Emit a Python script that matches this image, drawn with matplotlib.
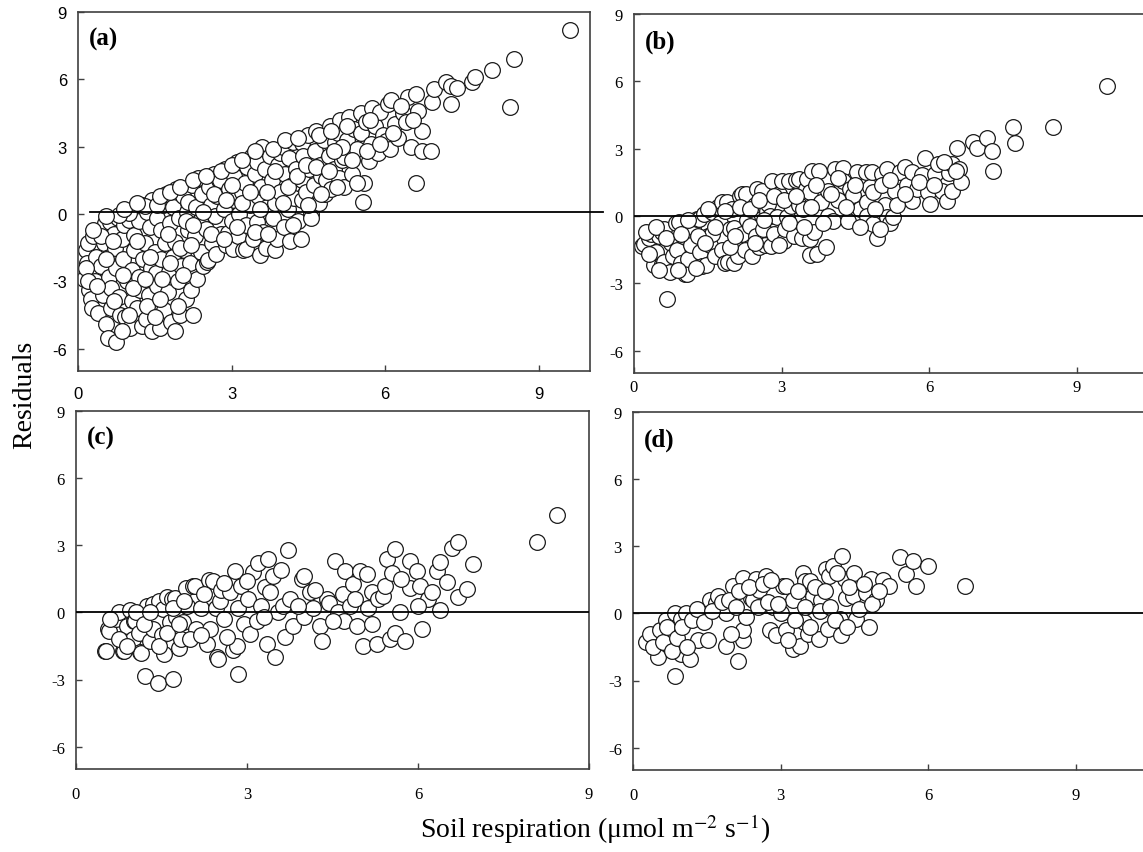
import numpy as np
import matplotlib
matplotlib.use('Agg')
import matplotlib.pyplot as plt

plt.rcParams['font.family'] = ['Liberation Serif', 'DejaVu Serif']
plt.rcParams['mathtext.fontset'] = 'stix'
plt.rcParams['axes.unicode_minus'] = False

resid_a = [
    (0.12, -2.9), (0.15, -1.6), (0.18, -2.2), (0.2, -1.3), (0.22, -3.4), (0.25, -3.8), (0.28, -4.2),
    (0.3, -2.6), (0.3, -1.0), (0.33, -3.0), (0.35, -1.9), (0.4, -4.4), (0.42, -0.7), (0.45, -2.3),
    (0.48, -3.6), (0.5, -1.3), (0.52, -0.4), (0.55, -4.9), (0.58, -5.55), (0.6, -1.9), (0.6, -2.8),
    (0.62, -0.35), (0.65, -3.3), (0.65, -4.2), (0.7, -0.9), (0.72, -1.5), (0.75, -5.7), (0.75, -2.4),
    (0.78, -0.2), (0.8, -3.7), (0.82, -4.5), (0.85, -1.1), (0.88, -2.0), (0.9, -0.5), (0.92, -4.6),
    (0.95, -3.0), (0.95, 0.0), (1.0, -0.27), (1.02, -5.1), (1.05, -2.5), (1.05, -3.9), (1.1, -0.95),
    (1.1, -1.6), (1.12, 0.2), (1.15, -4.2), (1.2, -2.8), (1.2, -0.3), (1.22, -3.4), (1.25, -5.0),
    (1.25, 0.4), (1.27, -2.0), (1.3, -1.3), (1.32, -4.7), (1.35, 0.1), (1.38, -3.6), (1.4, -0.6),
    (1.42, -2.4), (1.45, -5.2), (1.45, 0.6), (1.5, -1.7), (1.53, -2.65), (1.55, -3.2), (1.55, -0.2),
    (1.6, -5.1), (1.62, -0.7), (1.63, -2.0), (1.66, 0.4), (1.68, -4.3), (1.7, -1.3), (1.72, 0.9),
    (1.75, -3.5), (1.78, -2.6), (1.8, -0.4), (1.82, -4.8), (1.85, 0.3), (1.85, -1.9), (1.89, -1.25),
    (1.9, -5.2), (1.92, 1.1), (1.95, -3.0), (1.98, -0.2), (2.0, -4.5), (2.02, -2.3), (2.05, 0.8),
    (2.08, -1.6), (2.1, -3.8), (2.12, 0.1), (2.15, 0.55), (2.15, -0.7), (2.18, -2.2), (2.2, -3.4),
    (2.22, 1.3), (2.25, -4.5), (2.28, -1.0), (2.3, 0.3), (2.32, -2.9), (2.35, 1.6), (2.38, -0.3),
    (2.4, -1.7), (2.42, 0.9), (2.45, -2.3), (2.5, -0.65), (2.52, -2.15), (2.54, -2.05), (2.55, 1.2),
    (2.6, 0.4), (2.62, -1.3), (2.65, 1.8), (2.68, -0.1), (2.7, -1.8), (2.72, 0.8), (2.75, 1.5),
    (2.77, 1.5), (2.8, -0.9), (2.85, 0.2), (2.88, 2.0), (2.9, -1.4), (2.93, -0.85), (2.95, 1.1),
    (3.0, -0.3), (3.02, -1.55), (3.05, 1.7), (3.05, 0.6), (3.1, 2.3), (3.12, -1.0), (3.15, 0.0),
    (3.2, 1.0), (3.22, -1.6), (3.26, 1.4), (3.28, -0.5), (3.29, -1.55), (3.3, 2.1), (3.35, 0.4),
    (3.4, 2.6), (3.42, -1.1), (3.45, 1.8), (3.49, -0.35), (3.49, 2.3), (3.52, 0.8), (3.55, -1.84),
    (3.58, 1.2), (3.6, 3.0), (3.62, -0.8), (3.65, 2.0), (3.68, -1.5), (3.7, 0.3), (3.75, 2.6),
    (3.78, 1.5), (3.8, -0.2), (3.84, 0.5), (3.84, -1.6), (3.88, -1.1), (3.9, 2.2), (3.94, 2.7),
    (3.95, 1.0), (4.0, 3.0), (4.02, -0.6), (4.05, 1.8), (4.1, 0.2), (4.12, 2.5), (4.15, -1.2),
    (4.18, 1.3), (4.2, 3.2), (4.22, 0.7), (4.25, 2.0), (4.3, -0.3), (4.35, -1.1), (4.37, 3.15),
    (4.37, 1.5), (4.37, 0.6), (4.4, 2.6), (4.45, 1.0), (4.5, 3.5), (4.52, 2.0), (4.55, 0.0),
    (4.56, -0.2), (4.6, 1.3), (4.62, 2.8), (4.65, 3.7), (4.7, 0.5), (4.72, 2.2), (4.75, 1.7),
    (4.8, 3.3), (4.82, 0.9), (4.85, 1.5), (4.9, 2.6), (4.92, 3.9), (4.95, 1.1), (5.0, 2.0),
    (5.02, 3.2), (5.07, 3.6), (5.1, 1.6), (5.12, 4.2), (5.15, 2.4), (5.2, 2.55), (5.2, 1.2),
    (5.25, 3.3), (5.3, 4.3), (5.35, 1.8), (5.4, 3.8), (5.45, 2.9), (5.53, 4.5), (5.53, 3.6),
    (5.56, 0.55), (5.59, 1.4), (5.62, 4.1), (5.69, 2.35), (5.73, 3.1), (5.75, 4.7), (5.8, 3.9),
    (5.85, 2.7), (5.89, 4.55), (5.95, 3.5), (6.02, 3.25), (6.05, 4.9), (6.1, 2.9), (6.12, 5.1),
    (6.2, 4.0), (6.25, 3.4), (6.34, 4.5), (6.41, 4.1), (6.45, 5.2), (6.5, 3.0), (6.6, 5.35),
    (6.6, 1.4), (6.65, 4.6), (6.72, 3.7), (6.72, 2.8), (6.9, 2.8), (6.92, 5.0), (6.96, 5.55),
    (7.19, 5.9), (7.29, 5.7), (7.29, 4.9), (7.4, 5.6), (7.7, 5.9), (7.76, 6.1), (8.09, 6.4),
    (8.44, 4.75), (8.52, 6.9), (9.61, 8.2),
    (0.15, -2.4), (0.2, -3.0), (0.38, -3.2), (0.45, -1.0), (0.55, -2.0), (0.68, -1.2), (0.7, -3.9),
    (0.85, -5.2), (0.88, -2.7), (1.0, -4.5), (1.08, -3.3), (1.15, -1.2), (1.3, -2.9), (1.35, -4.1),
    (1.4, -1.9), (1.5, -4.6), (1.6, -3.8), (1.65, -2.9), (1.75, -0.9), (1.8, -2.2), (1.95, -4.1),
    (2.0, -1.5), (2.05, -2.7), (2.1, -0.3), (2.2, -1.4), (2.25, -0.5), (1.3, 0.35), (1.55, 0.4),
    (1.0, 0.05), (0.8, -0.05),
    (2.45, 0.1), (2.6, -0.9), (2.65, 0.9), (2.85, -1.1), (2.9, 0.6), (3.0, 1.3), (3.1, -0.6),
    (3.2, 0.5), (3.35, 1.0), (3.45, -0.8), (3.55, 0.2), (3.7, 1.0), (3.72, -0.9), (3.85, 1.9),
    (4.0, 0.5), (4.1, 1.2), (4.2, -0.5), (4.28, 1.7), (4.45, 2.2), (4.5, 0.4), (4.65, 2.1),
    (4.75, 0.9), (4.9, 1.9), (5.05, 1.2), (5.15, 3.0), (5.35, 2.4), (5.45, 1.4), (5.65, 2.8),
    (5.9, 3.1), (6.15, 3.6), (6.3, 4.8), (6.55, 4.2), (5.0, 2.8), (5.25, 3.9), (5.7, 4.2),
    (0.3, -0.7), (0.55, -0.1), (0.9, 0.2), (1.15, 0.5), (1.6, 0.8), (1.8, 1.0), (2.0, 1.2),
    (2.25, 1.5), (2.5, 1.7), (2.8, 1.9), (3.0, 2.2), (3.2, 2.4), (3.45, 2.8), (3.8, 2.9),
    (4.05, 3.3), (4.3, 3.4), (4.7, 3.5), (4.95, 3.7),
]

resid_b = [
    (0.16, -1.34), (0.2, -1.25), (0.3, -1.0), (0.35, -0.8), (0.4, -2.2), (0.45, -1.6), (0.5, -0.9),
    (0.57, -2.14), (0.57, -0.71), (0.61, -2.05), (0.61, -0.6), (0.67, -3.7), (0.73, -2.5), (0.75, -1.2),
    (0.8, -1.8), (0.85, -0.31), (0.87, -1.5), (0.91, -0.27), (0.95, -2.1), (1.0, -0.9), (1.04, -2.59),
    (1.07, -2.6), (1.1, -1.92), (1.15, -1.3), (1.2, -0.5), (1.28, -0.13), (1.32, -0.13), (1.35, -1.6),
    (1.38, -2.23), (1.42, 0.1), (1.46, -2.2), (1.5, -0.89), (1.55, -1.3), (1.58, 0.18), (1.58, -0.8),
    (1.65, -1.8), (1.7, 0.4), (1.75, -0.3), (1.79, 0.62), (1.79, -1.5), (1.85, -2.1), (1.89, 0.62),
    (1.91, -2.05), (1.95, -0.6), (2.0, 0.3), (2.03, -2.1), (2.03, -0.55), (2.1, -1.2), (2.12, -1.78),
    (2.15, 0.9), (2.19, 0.98), (2.19, -0.8), (2.25, -1.5), (2.28, 0.98), (2.3, -0.2), (2.36, -0.45),
    (2.39, -1.78), (2.45, 0.5), (2.48, -0.89), (2.5, 1.2), (2.55, -1.4), (2.6, 1.12), (2.62, -0.58),
    (2.66, -1.29), (2.7, 0.2), (2.73, 0.54), (2.76, 0.0), (2.78, -1.34), (2.8, 1.55), (2.85, -0.8),
    (2.9, -0.05), (2.95, 1.0), (3.0, 1.56), (3.05, -1.1), (3.07, -0.58), (3.1, -0.05), (3.15, 1.56),
    (3.2, 0.45), (3.25, -0.9), (3.3, 1.6), (3.35, 0.49), (3.36, 1.65), (3.41, -1.0), (3.44, 0.31),
    (3.5, 1.2), (3.52, 1.65), (3.58, 1.07), (3.58, -1.03), (3.58, -1.74), (3.62, 2.0), (3.65, -0.7),
    (3.72, -1.7), (3.76, 2.0), (3.8, 0.6), (3.9, -1.38), (3.94, 1.12), (3.94, 0.0), (4.05, -0.22),
    (4.09, 2.1), (4.15, 0.7), (4.25, 2.14), (4.25, 1.56), (4.35, -0.22), (4.4, 1.2), (4.45, 0.94),
    (4.53, 1.97), (4.6, 0.3), (4.72, 1.97), (4.73, 0.62), (4.73, 0.0), (4.8, 1.3), (4.83, 1.97),
    (4.86, 1.07), (4.86, -0.36), (4.94, -1.0), (5.04, 1.88), (5.04, 1.4), (5.1, 0.5), (5.14, 2.1),
    (5.14, -0.05), (5.2, -0.3), (5.27, -0.05), (5.3, 1.1), (5.41, 1.97), (5.5, 2.2), (5.55, 1.4),
    (5.65, 0.67), (5.65, 1.97), (5.75, 1.2), (5.85, 1.83), (5.92, 2.6), (5.98, 1.07), (6.02, 0.54),
    (6.12, 1.88), (6.18, 2.32), (6.26, 1.12), (6.36, 0.67), (6.4, 1.9), (6.46, 1.12), (6.46, 2.32),
    (6.56, 3.03), (6.6, 2.1), (6.65, 1.5), (6.9, 3.3), (6.97, 3.03), (7.17, 3.48), (7.27, 2.9),
    (7.3, 2.0), (7.7, 3.97), (7.74, 3.26), (8.52, 3.97), (9.61, 5.8),
    (0.25, -0.7), (0.3, -1.7), (0.45, -0.5), (0.5, -2.4), (0.65, -1.0), (0.9, -2.4), (0.95, -0.8),
    (1.1, -0.2), (1.25, -2.3), (1.3, -0.9), (1.45, -1.2), (1.5, 0.3), (1.65, -0.5), (1.85, 0.2),
    (1.95, -1.4), (2.05, -0.9), (2.15, 0.4), (2.35, 0.3), (2.45, -1.2), (2.55, 0.7), (2.65, -0.2),
    (2.85, 0.9), (2.95, -1.3), (3.05, 0.7), (3.15, -0.3), (3.3, 0.9), (3.45, -0.5), (3.6, 0.4),
    (3.7, 1.4), (3.85, -0.3), (4.0, 1.0), (4.15, 1.7), (4.3, 0.4), (4.5, 1.4), (4.6, -0.5),
    (4.9, 0.3), (5.0, -0.6), (5.2, 1.6), (5.35, 0.5), (5.5, 1.0), (5.8, 1.5), (6.1, 1.4),
    (6.3, 2.4), (6.55, 2.0),
]

resid_c = [
    (0.51, -1.74), (0.53, -1.73), (0.56, -0.76), (0.58, -0.83), (0.7, -0.3), (0.76, 0.0), (0.83, -1.74),
    (0.85, -1.73), (0.9, -0.6), (0.95, 0.1), (1.0, -1.2), (1.02, -0.39), (1.03, -0.4), (1.1, -0.9),
    (1.12, -1.79), (1.14, -1.8), (1.17, -0.03), (1.21, -2.86), (1.25, 0.3), (1.3, -1.3), (1.35, 0.37),
    (1.35, -0.75), (1.43, -3.14), (1.45, 0.5), (1.5, -1.0), (1.52, 0.16), (1.55, -1.87), (1.6, 0.7),
    (1.65, -0.45), (1.68, 0.58), (1.7, -2.99), (1.73, 0.65), (1.75, -0.2), (1.8, -1.6), (1.84, -1.2),
    (1.87, -0.45), (1.93, 1.1), (1.95, 0.3), (2.05, 1.16), (2.08, 1.18), (2.1, -0.75), (2.2, 0.2),
    (2.3, -1.43), (2.34, 1.45), (2.35, -0.76), (2.4, 1.39), (2.45, 0.2), (2.47, -2.0), (2.49, -2.1),
    (2.53, 0.49), (2.54, 1.0), (2.6, -0.3), (2.7, 0.9), (2.75, -1.7), (2.79, 1.83), (2.82, -1.52),
    (2.84, -2.77), (2.85, 0.2), (2.9, 1.2), (2.95, -0.5), (3.02, 0.58), (3.05, -0.98), (3.1, 1.8),
    (3.17, -0.4), (3.2, 2.2), (3.25, 0.3), (3.32, 1.12), (3.35, -1.43), (3.37, 2.37), (3.4, 0.9),
    (3.46, 1.61), (3.49, -2.0), (3.55, 0.0), (3.63, 0.27), (3.67, -1.12), (3.72, 2.78), (3.75, 0.6),
    (3.8, -0.6), (3.96, 1.47), (4.0, -0.2), (4.0, 1.62), (4.1, 0.89), (4.15, 0.2), (4.28, -0.63),
    (4.31, -1.29), (4.4, 0.6), (4.44, 0.43), (4.54, 2.28), (4.6, 0.0), (4.68, 0.8), (4.7, -0.4),
    (4.72, 1.83), (4.8, 0.3), (4.86, 1.25), (4.93, -0.63), (4.98, 1.83), (5.04, -1.52), (5.1, 1.7),
    (5.12, 0.2), (5.2, 0.9), (5.28, -1.43), (5.3, 0.6), (5.39, 0.71), (5.42, 1.2), (5.45, 2.37),
    (5.5, -1.2), (5.54, 1.78), (5.6, 2.82), (5.6, -0.9), (5.68, 0.0), (5.77, -1.29), (5.86, 2.28),
    (5.86, 1.1), (5.98, 1.83), (6.03, 1.16), (6.07, -0.76), (6.18, 0.58), (6.33, 1.83), (6.39, 2.23),
    (6.39, 0.1), (6.5, 1.34), (6.6, 2.86), (6.7, 3.13), (6.7, 0.67), (6.86, 1.05), (6.96, 2.14),
    (8.09, 3.13), (8.44, 4.33),
    (0.6, -0.3), (0.75, -1.2), (0.9, -1.5), (1.05, 0.0), (1.2, -0.5), (1.3, 0.0), (1.45, -1.5),
    (1.6, -0.9), (1.7, 0.2), (1.8, -0.5), (1.9, 0.5), (2.0, -1.2), (2.2, -1.0), (2.25, 0.8),
    (2.6, 1.3), (2.65, -1.1), (3.0, 1.4), (3.3, -0.2), (3.6, 1.9), (3.9, 0.3), (4.2, 1.0),
    (4.5, -0.4), (4.9, 0.6), (5.2, -0.5), (5.7, 1.5), (6.0, 0.3), (6.25, 0.9),
]

resid_d = [
    (0.27, -1.29), (0.34, -0.91), (0.51, -1.97), (0.54, -0.76), (0.68, -0.3), (0.74, -1.21), (0.85, -2.8),
    (0.85, 0.0), (0.98, -0.23), (0.98, -1.82), (1.08, 0.0), (1.15, -2.05), (1.32, -1.21), (1.35, 0.0),
    (1.52, -1.21), (1.56, 0.6), (1.69, 0.45), (1.73, 0.76), (1.9, -1.44), (1.9, 0.0), (2.03, 1.21),
    (2.13, -2.12), (2.23, -1.21), (2.23, -0.76), (2.23, 1.59), (2.3, -0.15), (2.4, 0.68), (2.44, 0.6),
    (2.5, 1.52), (2.57, 1.06), (2.71, 1.67), (2.78, -0.76), (2.84, 0.3), (2.91, -0.98), (3.01, 0.0),
    (3.05, 1.21), (3.11, 1.21), (3.11, -0.76), (3.25, 0.6), (3.25, -1.59), (3.39, -1.44), (3.45, 1.82),
    (3.47, -0.38), (3.49, 1.44), (3.55, -0.91), (3.59, 1.44), (3.66, 0.76), (3.79, -1.14), (3.83, 0.6),
    (3.93, 1.97), (3.96, -0.68), (3.99, 1.67), (4.06, 2.12), (4.2, -0.23), (4.23, -0.98), (4.25, 2.58),
    (4.3, 1.52), (4.33, 0.68), (4.47, 0.76), (4.5, 1.8), (4.54, -0.23), (4.74, 0.9), (4.79, -0.6),
    (4.84, 1.52), (4.94, 0.6), (5.08, 1.5), (5.21, 1.21), (5.42, 2.5), (5.55, 1.74), (5.69, 2.35),
    (5.75, 1.24), (5.99, 2.12), (6.74, 1.24),
    (0.4, -1.5), (0.6, -1.3), (0.7, -0.6), (0.8, -1.7), (0.9, -1.1), (1.0, -0.6), (1.1, -1.5),
    (1.2, -0.3), (1.3, 0.2), (1.45, -0.4), (1.6, 0.1), (1.8, 0.5), (1.95, 0.6), (2.0, -0.9),
    (2.1, 0.3), (2.15, 1.0), (2.35, 1.2), (2.55, 0.3), (2.65, 1.3), (2.75, 0.5), (2.8, 1.5),
    (2.95, 0.4), (3.15, -1.2), (3.3, -0.3), (3.35, 1.0), (3.5, 0.3), (3.6, -0.6), (3.7, 1.2),
    (3.8, 0.1), (3.9, 1.0), (4.0, 0.3), (4.1, -0.3), (4.15, 1.8), (4.35, -0.6), (4.4, 1.2),
    (4.6, 0.2), (4.7, 1.3), (4.85, 0.4), (5.0, 1.0),
]

panel_labels = ['(a)', '(b)', '(c)', '(d)']
x_ticks = [0, 3, 6, 9]
y_ticks = [-6, -3, 0, 3, 6, 9]

W, H = 1143, 853
fig = plt.figure(figsize=(W / 100, H / 100), dpi=100)


def px_axes(left, top, right, bottom):
    return fig.add_axes([left / W, 1 - bottom / H, (right - left) / W, (bottom - top) / H])


# axes boxes in pixels (left, top, right, bottom)
ax_a = px_axes(78, 13, 590, 372)
ax_b = px_axes(634, 15, 634 + 10.5 * 49.2, 374)
ax_c = px_axes(76, 412, 589, 770)
ax_d = px_axes(633, 413, 633 + 10.5 * 49.2, 771)

panels = [
    (ax_a, resid_a, 10, 11, 'Liberation Sans'),
    (ax_b, resid_b, 10.5, 4.5, 'Liberation Serif'),
    (ax_c, resid_c, 9, 12, 'Liberation Serif'),
    (ax_d, resid_d, 10.5, 12, 'Liberation Serif'),
]

for (ax, pts, xmax, xpad, tick_font), lab in zip(panels, panel_labels):
    pts = np.array(pts)
    ax.scatter(pts[:, 0], pts[:, 1], s=128, facecolor='white', edgecolor='#1a1a1a',
               linewidth=0.9, zorder=2)
    ax.set_xlim(0, xmax)
    ax.set_ylim(-7, 9)
    ax.set_xticks(x_ticks)
    ax.set_yticks(y_ticks)
    ax.tick_params(axis='both', direction='in', length=4, width=1, color='#404040',
                   labelsize=12, labelfontfamily=tick_font)
    ax.tick_params(axis='x', pad=xpad)
    ax.tick_params(axis='y', pad=8)
    for sp in ax.spines.values():
        sp.set_color('#404040')
        sp.set_linewidth(1.2)
    ax.text(0.022, 0.925, lab, transform=ax.transAxes, fontsize=18, fontweight='bold',
            va='center', ha='left')

# zero line; in (a) it runs a little past the frame
ax_a.plot([0.24, 10.25], [0.08, 0.08], color='black', lw=1.3, zorder=3, clip_on=False)
for ax in (ax_b, ax_c, ax_d):
    ax.axhline(0, color='black', lw=1.3, zorder=3)

fig.text(25 / W, 1 - 395 / H, 'Residuals', rotation=90, fontsize=20, ha='center', va='center')
fig.text(595 / W, 1 - 838 / H, 'Soil respiration (μmol m$^{-2}$ s$^{-1}$)', fontsize=20,
         ha='center', va='baseline')

fig.savefig('out.png', dpi=100)
